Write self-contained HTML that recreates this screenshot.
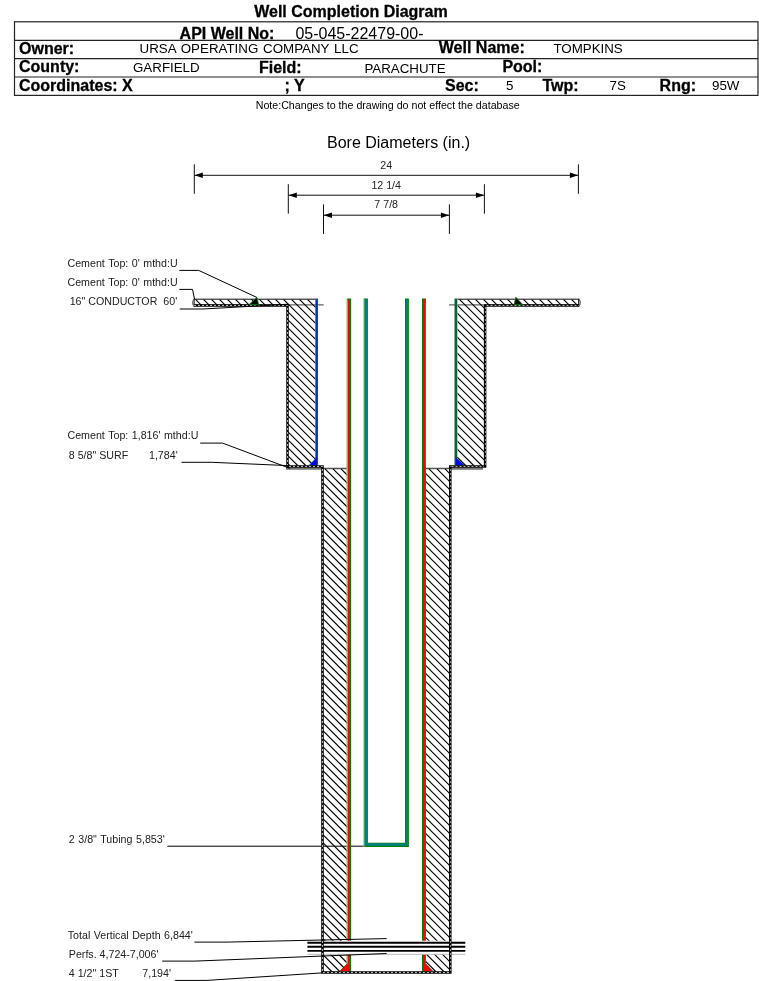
<!DOCTYPE html>
<html>
<head>
<meta charset="utf-8">
<title>Well Completion Diagram</title>
<style>
html,body{margin:0;padding:0;background:#fff;}
body{width:759px;height:981px;overflow:hidden;font-family:"Liberation Sans",sans-serif;}
svg{display:block;position:absolute;left:0;top:0;will-change:transform;}
text{font-family:"Liberation Sans",sans-serif;fill:#000;}
.b{font-weight:bold;font-size:16px;stroke:#000;stroke-width:0.3px;}
.v{font-size:13.33px;}
.l{font-size:10.67px;fill:#222;}
.d{font-size:10.67px;text-anchor:middle;fill:#222;}
.ld{stroke:#000;stroke-width:1;fill:none;}
.tb{stroke:#222;stroke-width:1.2;fill:none;}
</style>
</head>
<body>
<svg width="759" height="981" viewBox="0 0 759 981">

<!-- ===== HEADER ===== -->
<g id="header">
<text class="b" x="254.2" y="16.7">Well Completion Diagram</text>
<rect class="tb" x="14.5" y="21.8" width="743.5" height="73.6"/>
<path class="tb" d="M14.5,40.3H758 M14.5,58.6H758 M14.5,77H758"/>
<text class="b" x="179.6" y="39.2">API Well No:</text>
<text x="295.4" y="39.3" font-size="16">05-045-22479-00-</text>
<text class="b" x="19" y="53.6">Owner:</text>
<text class="v" x="139.6" y="52.8" word-spacing="1.15">URSA OPERATING COMPANY LLC</text>
<text class="b" x="438.8" y="53.3">Well Name:</text>
<text class="v" x="553.4" y="52.8">TOMPKINS</text>
<text class="b" x="19" y="72">County:</text>
<text class="v" x="133" y="71.8">GARFIELD</text>
<text class="b" x="259" y="73.3">Field:</text>
<text class="v" x="364.4" y="72.9">PARACHUTE</text>
<text class="b" x="502.4" y="71.8">Pool:</text>
<text class="b" x="19" y="90.6">Coordinates: X</text>
<text class="b" x="284.6" y="90.9">; Y</text>
<text class="b" x="445" y="90.9">Sec:</text>
<text class="v" x="506" y="90.2">5</text>
<text class="b" x="542.4" y="90.9">Twp:</text>
<text class="v" x="609.6" y="90.2">7S</text>
<text class="b" x="659.6" y="90.9">Rng:</text>
<text class="v" x="712" y="90.2">95W</text>
<text x="255.7" y="109" font-size="10.67">Note:Changes to the drawing do not effect the database</text>
</g>

<!-- ===== BORE DIAMETERS ===== -->
<g id="bore">
<text x="327" y="147.6" font-size="16">Bore Diameters (in.)</text>
<text class="d" x="386.2" y="168.8">24</text>
<text class="d" x="386.2" y="188.6">12 1/4</text>
<text class="d" x="386.2" y="208.4">7 7/8</text>
<g stroke="#111" stroke-width="1" fill="none">
<path d="M194.3,164.3V193.8 M578.4,164.3V193.8 M194.3,175.3H578.4"/>
<path d="M288.3,184.2V213.7 M484.4,184.2V213.7 M288.3,195.2H484.4"/>
<path d="M323.5,204.4V233.9 M449.4,204.4V233.9 M323.5,215.2H449.4"/>
</g>
<g fill="#000">
<path d="M194.6,175.3 L202.8,172.5 L202.8,178.1Z M578.1,175.3 L569.9,172.5 L569.9,178.1Z"/>
<path d="M288.6,195.2 L296.8,192.4 L296.8,198Z M484.1,195.2 L475.9,192.4 L475.9,198Z"/>
<path d="M323.8,215.2 L332,212.4 L332,218Z M449.1,215.2 L440.9,212.4 L440.9,218Z"/>
</g>
</g>

<!-- ===== WELL DRAWING ===== -->
<g id="well">
<!-- gray reference lines -->
<path d="M194,304.9H323.7 M449.1,304.9H579" stroke="#666" stroke-width="1.2" fill="none"/>
<path d="M286,468.6H323 M450,468.6H483" stroke="#747474" stroke-width="2.2" fill="none"/>
<path d="M322,468.5H347.5 M425.5,468.5H450.5" stroke="#555" stroke-width="1.3" fill="none"/>
<!-- hatched cement -->
<path id="hatch" stroke-linecap="butt" d="M322.6,970.4L324.2,972.0M322.6,962.4L332.2,972.0M322.6,954.4L340.2,972.0M322.6,946.4L347.2,971.0M322.6,938.4L347.2,963.0M322.6,930.4L347.2,955.0M322.6,922.4L347.2,947.0M322.6,914.4L347.2,939.0M322.6,906.4L347.2,931.0M322.6,898.4L347.2,923.0M322.6,890.4L347.2,915.0M322.6,882.4L347.2,907.0M322.6,874.4L347.2,899.0M322.6,866.4L347.2,891.0M425.6,969.4L428.2,972.0M322.6,858.4L347.2,883.0M425.6,961.4L436.2,972.0M322.6,850.4L347.2,875.0M425.6,953.4L444.2,972.0M322.6,842.4L347.2,867.0M425.6,945.4L450.0,969.8M322.6,834.4L347.2,859.0M425.6,937.4L450.0,961.8M322.6,826.4L347.2,851.0M425.6,929.4L450.0,953.8M322.6,818.4L347.2,843.0M425.6,921.4L450.0,945.8M322.6,810.4L347.2,835.0M425.6,913.4L450.0,937.8M322.6,802.4L347.2,827.0M425.6,905.4L450.0,929.8M322.6,794.4L347.2,819.0M425.6,897.4L450.0,921.8M322.6,786.4L347.2,811.0M425.6,889.4L450.0,913.8M322.6,778.4L347.2,803.0M425.6,881.4L450.0,905.8M322.6,770.4L347.2,795.0M425.6,873.4L450.0,897.8M322.6,762.4L347.2,787.0M425.6,865.4L450.0,889.8M322.6,754.4L347.2,779.0M425.6,857.4L450.0,881.8M322.6,746.4L347.2,771.0M425.6,849.4L450.0,873.8M322.6,738.4L347.2,763.0M425.6,841.4L450.0,865.8M322.6,730.4L347.2,755.0M425.6,833.4L450.0,857.8M322.6,722.4L347.2,747.0M425.6,825.4L450.0,849.8M322.6,714.4L347.2,739.0M425.6,817.4L450.0,841.8M322.6,706.4L347.2,731.0M425.6,809.4L450.0,833.8M322.6,698.4L347.2,723.0M425.6,801.4L450.0,825.8M322.6,690.4L347.2,715.0M425.6,793.4L450.0,817.8M322.6,682.4L347.2,707.0M425.6,785.4L450.0,809.8M322.6,674.4L347.2,699.0M425.6,777.4L450.0,801.8M322.6,666.4L347.2,691.0M425.6,769.4L450.0,793.8M322.6,658.4L347.2,683.0M425.6,761.4L450.0,785.8M322.6,650.4L347.2,675.0M425.6,753.4L450.0,777.8M322.6,642.4L347.2,667.0M425.6,745.4L450.0,769.8M322.6,634.4L347.2,659.0M425.6,737.4L450.0,761.8M322.6,626.4L347.2,651.0M425.6,729.4L450.0,753.8M322.6,618.4L347.2,643.0M425.6,721.4L450.0,745.8M322.6,610.4L347.2,635.0M425.6,713.4L450.0,737.8M322.6,602.4L347.2,627.0M425.6,705.4L450.0,729.8M322.6,594.4L347.2,619.0M425.6,697.4L450.0,721.8M322.6,586.4L347.2,611.0M425.6,689.4L450.0,713.8M322.6,578.4L347.2,603.0M425.6,681.4L450.0,705.8M322.6,570.4L347.2,595.0M425.6,673.4L450.0,697.8M322.6,562.4L347.2,587.0M425.6,665.4L450.0,689.8M322.6,554.4L347.2,579.0M425.6,657.4L450.0,681.8M322.6,546.4L347.2,571.0M425.6,649.4L450.0,673.8M322.6,538.4L347.2,563.0M425.6,641.4L450.0,665.8M322.6,530.4L347.2,555.0M425.6,633.4L450.0,657.8M322.6,522.4L347.2,547.0M425.6,625.4L450.0,649.8M322.6,514.4L347.2,539.0M425.6,617.4L450.0,641.8M322.6,506.4L347.2,531.0M425.6,609.4L450.0,633.8M288.0,463.8L290.2,466.0M322.6,498.4L347.2,523.0M425.6,601.4L450.0,625.8M288.0,455.8L298.2,466.0M322.6,490.4L347.2,515.0M425.6,593.4L450.0,617.8M288.0,447.8L306.2,466.0M322.6,482.4L347.2,507.0M425.6,585.4L450.0,609.8M288.0,439.8L314.2,466.0M322.6,474.4L347.2,499.0M425.6,577.4L450.0,601.8M288.0,431.8L315.6,459.4M325.0,468.8L347.2,491.0M425.6,569.4L450.0,593.8M288.0,423.8L315.6,451.4M333.0,468.8L347.2,483.0M425.6,561.4L450.0,585.8M288.0,415.8L315.6,443.4M341.0,468.8L347.2,475.0M425.6,553.4L450.0,577.8M288.0,407.8L315.6,435.4M425.6,545.4L450.0,569.8M288.0,399.8L315.6,427.4M425.6,537.4L450.0,561.8M195.5,299.3L201.5,305.3M288.0,391.8L315.6,419.4M425.6,529.4L450.0,553.8M203.5,299.3L209.5,305.3M288.0,383.8L315.6,411.4M425.6,521.4L450.0,545.8M211.5,299.3L217.5,305.3M288.0,375.8L315.6,403.4M425.6,513.4L450.0,537.8M219.5,299.3L225.5,305.3M288.0,367.8L315.6,395.4M425.6,505.4L450.0,529.8M227.5,299.3L233.5,305.3M288.0,359.8L315.6,387.4M425.6,497.4L450.0,521.8M235.5,299.3L241.5,305.3M288.0,351.8L315.6,379.4M425.6,489.4L450.0,513.8M243.5,299.3L249.5,305.3M288.0,343.8L315.6,371.4M425.6,481.4L450.0,505.8M251.5,299.3L257.5,305.3M288.0,335.8L315.6,363.4M425.6,473.4L450.0,497.8M259.5,299.3L265.5,305.3M288.0,327.8L315.6,355.4M429.0,468.8L450.0,489.8M267.5,299.3L273.5,305.3M288.0,319.8L315.6,347.4M437.0,468.8L450.0,481.8M275.5,299.3L281.5,305.3M288.0,311.8L315.6,339.4M445.0,468.8L450.0,473.8M283.5,299.3L289.5,305.3M289.5,305.3L315.6,331.4M291.5,299.3L297.5,305.3M297.5,305.3L315.6,323.4M457.0,464.8L458.2,466.0M299.5,299.3L305.5,305.3M305.5,305.3L315.6,315.4M457.0,456.8L466.2,466.0M307.5,299.3L313.5,305.3M313.5,305.3L315.6,307.4M457.0,448.8L474.2,466.0M315.5,299.3L315.6,299.4M457.0,440.8L482.2,466.0M457.0,432.8L484.6,460.4M457.0,424.8L484.6,452.4M457.0,416.8L484.6,444.4M457.0,408.8L484.6,436.4M457.0,400.8L484.6,428.4M457.0,392.8L484.6,420.4M457.0,384.8L484.6,412.4M457.0,376.8L484.6,404.4M457.0,368.8L484.6,396.4M457.0,360.8L484.6,388.4M457.0,352.8L484.6,380.4M457.0,344.8L484.6,372.4M457.0,336.8L484.6,364.4M457.0,328.8L484.6,356.4M457.0,320.8L484.6,348.4M457.0,312.8L484.6,340.4M457.0,304.8L457.5,305.3M457.5,305.3L484.6,332.4M459.5,299.3L465.5,305.3M465.5,305.3L484.6,324.4M467.5,299.3L473.5,305.3M473.5,305.3L484.6,316.4M475.5,299.3L481.5,305.3M481.5,305.3L484.6,308.4M483.5,299.3L489.5,305.3M491.5,299.3L497.5,305.3M499.5,299.3L505.5,305.3M507.5,299.3L513.5,305.3M515.5,299.3L521.5,305.3M523.5,299.3L529.5,305.3M531.5,299.3L537.5,305.3M539.5,299.3L545.5,305.3M547.5,299.3L553.5,305.3M555.5,299.3L561.5,305.3M563.5,299.3L569.5,305.3M571.5,299.3L577.5,305.3" stroke="#000" stroke-width="1.12" fill="none"/>
<!-- bar top edges and end caps -->
<path d="M193.6,299.2H315.6 M457,299.2H579.2" stroke="#000" stroke-width="0.95" fill="none"/>
<path d="M194.1,298.8V306.6 M578.7,298.8V306.6" stroke="#000" stroke-width="1" fill="none"/>
<path d="M194,299.2 Q191.4,302.8 194,306.4 M579,299.2 Q581.6,302.8 579,306.4" stroke="#666" stroke-width="1.3" fill="none"/>
<path class="ld" d="M167.4,846.2H367.4"/>
<!-- surface casing 8 5/8 -->
<rect x="315.3" y="298.5" width="2.75" height="166.7" fill="#078207"/>
<rect x="315.95" y="299.3" width="1.3" height="165.9" fill="#0a2cb0"/>
<rect x="454.5" y="298.5" width="2.5" height="166.7" fill="#0b6a2c"/>
<rect x="455.5" y="299.3" width="1.3" height="165.9" fill="#045a4a"/>
<rect x="457" y="299.3" width="0.7" height="158" fill="#8fd08f"/>
<!-- surface casing shoes -->
<path d="M309.2,465.2H317V457.3Z" fill="#0000ff" stroke="#0a5a30" stroke-width="0.5"/>
<path d="M464.6,465.2H455.6V457.3Z" fill="#0000ff" stroke="#0a5a30" stroke-width="0.5"/>
<!-- production casing shoes -->
<path d="M350.1,971.3H339.8L347.5,963.4H350.1Z M423,971.3H432.9L425.3,963.4H423Z" fill="#ff0000"/>
<path d="M339.6,971.5L347.5,963.4 M433.1,971.5L425.3,963.4" stroke="#1a3a0a" stroke-width="0.7" fill="none"/>
<!-- production casing 4 1/2 -->
<rect x="346.4" y="298.8" width="1.3" height="664.8" fill="#8fcf8f"/>
<rect x="347.6" y="298.8" width="2.5" height="672.8" fill="#ff0000"/>
<rect x="350" y="298.8" width="1.1" height="672.8" fill="#008000"/>
<rect x="347" y="298.6" width="4.1" height="0.9" fill="#008000"/>
<rect x="422" y="298.8" width="1" height="672.8" fill="#008000"/>
<rect x="423" y="298.8" width="2" height="672.8" fill="#ff0000"/>
<rect x="425" y="298.8" width="0.9" height="664.8" fill="#008000"/>
<rect x="422" y="298.6" width="3.9" height="0.9" fill="#008000"/>
<!-- tubing 2 3/8 -->
<path d="M363.6,298.6H367.9V842.7H405V298.6H408.9V846.9H363.6Z" fill="#008000"/>
<path d="M364.5,299.4H367.1V843.3H406V299.4H408V845.7H364.5Z" fill="#008080"/>
<rect x="363.5" y="298.6" width="1" height="548.3" fill="#fff" opacity="0.5"/>
<!-- perforations -->
<rect x="307.4" y="940.7" width="158" height="13.9" fill="#fff"/>
<path d="M307.4,942.7H465.3 M307.4,946.8H465.3 M307.4,950.9H465.3" stroke="#000" stroke-width="1.9" fill="none"/>
<path d="M307.4,954.3H465.3" stroke="#999" stroke-width="0.7" fill="none"/>
<!-- bore walls: black with white dashes -->
<path id="wall" d="M194,305.45H287.5V466.45H322.5V972.5H450.3V466.45H485.1V305.45H579" stroke="#000" stroke-width="2.5" fill="none" stroke-linejoin="miter"/>
<path d="M194,305.45H287.5V466.45H322.5V972.5H449" stroke="#f4f4f4" stroke-width="0.75" stroke-dasharray="2 2" fill="none"/>
<path d="M450.6,971V466.45" stroke="#bbb" stroke-width="0.8" stroke-dasharray="2 2" fill="none"/>
<path d="M451.5,466.45H484" stroke="#f4f4f4" stroke-width="0.75" stroke-dasharray="2 2" fill="none"/>
<path d="M485.4,465V305.45" stroke="#bbb" stroke-width="0.8" stroke-dasharray="2 2" fill="none"/>
<path d="M486.5,305.45H579" stroke="#f4f4f4" stroke-width="0.75" stroke-dasharray="2 2" fill="none"/>
<!-- conductor cement top markers -->
<path d="M249.2,304.4L257,297.4L258.6,304.4Z" fill="#000" stroke="#008000" stroke-width="0.8"/>
<path d="M522.6,304.4L515.8,297.2L514.2,304.4Z" fill="#000" stroke="#008000" stroke-width="0.8"/>
</g>

<!-- ===== LABELS ===== -->
<g id="labels">
<text class="l" x="67.5" y="266.9" word-spacing="0.55">Cement Top: 0' mthd:U</text>
<text class="l" x="67.5" y="285.8" word-spacing="0.55">Cement Top: 0' mthd:U</text>
<text class="l" x="69.7" y="305.2" xml:space="preserve">16" CONDUCTOR  60'</text>
<text class="l" x="67.5" y="439.4" word-spacing="0.55">Cement Top: 1,816' mthd:U</text>
<text class="l" x="68.8" y="458.6" xml:space="preserve">8 5/8" SURF       1,784'</text>
<text class="l" x="68.8" y="842.5" word-spacing="0.6">2 3/8" Tubing 5,853'</text>
<text class="l" x="67.8" y="938.5" word-spacing="0.5">Total Vertical Depth 6,844'</text>
<text class="l" x="68.8" y="957.6">Perfs. 4,724-7,006'</text>
<text class="l" x="68.8" y="976.9" xml:space="preserve">4 1/2" 1ST        7,194'</text>
<g class="ld">
<path d="M179.3,270.4H198.7L256.8,297.4"/>
<path d="M179.3,289.4H192.5L194.6,299.2"/>
<path d="M179.7,309H203L288.3,304.2"/>
<path d="M200.2,443.1H222.6L290,468.4"/>
<path d="M181.5,462.3H211.7L288,465.6"/>
<path d="M194.4,942.1H227L386.6,938.6"/>
<path d="M162.2,961.1H195L386.6,953.5"/>
<path d="M174.9,980.4H207L322,972.9"/>
</g>
</g>
</svg>
</body>
</html>
